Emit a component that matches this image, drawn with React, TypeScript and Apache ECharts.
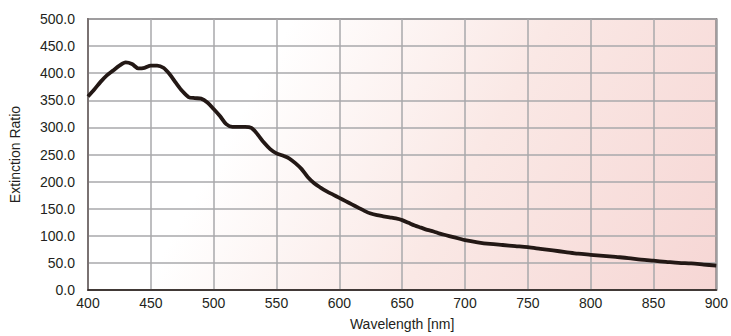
import React, { useEffect, useRef } from "react";
import * as echarts from "echarts";

const wavelengths = [
  400, 405, 410, 415, 420, 425, 430, 435, 440, 445, 450, 455, 460, 465, 470, 475,
  480, 485, 490, 495, 500, 505, 510, 515, 520, 525, 530, 535, 540, 545, 550, 555,
  560, 565, 570, 575, 580, 585, 590, 595, 600, 605, 610, 615, 620, 625, 630, 635,
  640, 645, 650, 655, 660, 665, 670, 675, 680, 685, 690, 695, 700, 710, 720, 730,
  740, 750, 760, 770, 780, 790, 800, 810, 820, 830, 840, 850, 860, 870, 880, 890, 900,
];
const extinction = [
  357, 370, 384, 396, 405, 414, 420, 417, 409, 410, 414, 414, 410, 398, 382, 367,
  356, 354, 353, 346, 334, 321, 306, 301, 301, 301, 299, 287, 272, 260, 252, 248,
  243, 234, 223, 208, 197, 189, 182, 176, 170, 164, 158, 152, 146, 141, 138, 136,
  134, 132, 129, 124, 119, 115, 111, 108, 104, 101, 98, 95, 92, 88, 85, 83,
  81, 79, 76, 73, 70, 67, 65, 63, 61, 59, 56, 54, 52, 50, 49, 47, 45,
];
const xTicks = { min: 400, max: 900, interval: 50 };
const yTicks = { min: 0, max: 500, interval: 50 };

export default function App() {
  const ref = useRef<HTMLDivElement>(null);
  useEffect(() => {
    document.body.style.margin = "0";
    const chart = echarts.init(ref.current!, undefined, { renderer: "svg" });
    const font = "Liberation Sans, Arial, Helvetica, sans-serif";
    chart.setOption({
      animation: false,
      grid: {
        left: 87,
        right: 10,
        top: 19,
        bottom: 42,
        show: true,
        borderColor: "#857d7d",
        borderWidth: 2,
        backgroundColor: new echarts.graphic.LinearGradient(
          245, 106, 689, 352,
          [
            { offset: 0, color: "#ffffff" },
            { offset: 0.45, color: "#fae8e5" },
            { offset: 1, color: "#f6d6d4" },
          ],
          true
        ),
      },
      xAxis: {
        type: "value",
        min: xTicks.min,
        max: xTicks.max,
        interval: xTicks.interval,
        name: "Wavelength [nm]",
        nameLocation: "middle",
        nameGap: 27,
        nameTextStyle: { fontFamily: font, fontSize: 14, color: "#231f20" },
        axisLine: { show: true, onZero: false, lineStyle: { color: "#231815", width: 1.5 } },
        axisTick: { show: false },
        axisLabel: { fontFamily: font, fontSize: 14, color: "#231f20", margin: 6 },
        splitLine: { show: true, lineStyle: { color: "#a9a9ab", width: 1.5 } },
      },
      yAxis: {
        type: "value",
        min: yTicks.min,
        max: yTicks.max,
        interval: yTicks.interval,
        name: "Extinction Ratio",
        nameLocation: "middle",
        nameGap: 66,
        nameTextStyle: { fontFamily: font, fontSize: 14, color: "#231f20" },
        axisLine: { show: true, lineStyle: { color: "#7a7272", width: 2 } },
        axisTick: { show: false },
        axisLabel: {
          fontFamily: font,
          fontSize: 14,
          color: "#231f20",
          margin: 13,
          formatter: (v: number) => v.toFixed(1),
        },
        splitLine: { show: true, lineStyle: { color: "#a9a9ab", width: 1.5 } },
      },
      series: [
        {
          type: "line",
          data: wavelengths.map((w, i) => [w, extinction[i]]),
          showSymbol: false,
          symbol: "none",
          smooth: 0.3,
          lineStyle: { color: "#231815", width: 3.8 },
          z: 5,
        },
      ],
    });
    return () => chart.dispose();
  }, []);
  return <div ref={ref} style={{ width: 731, height: 336 }} />;
}
